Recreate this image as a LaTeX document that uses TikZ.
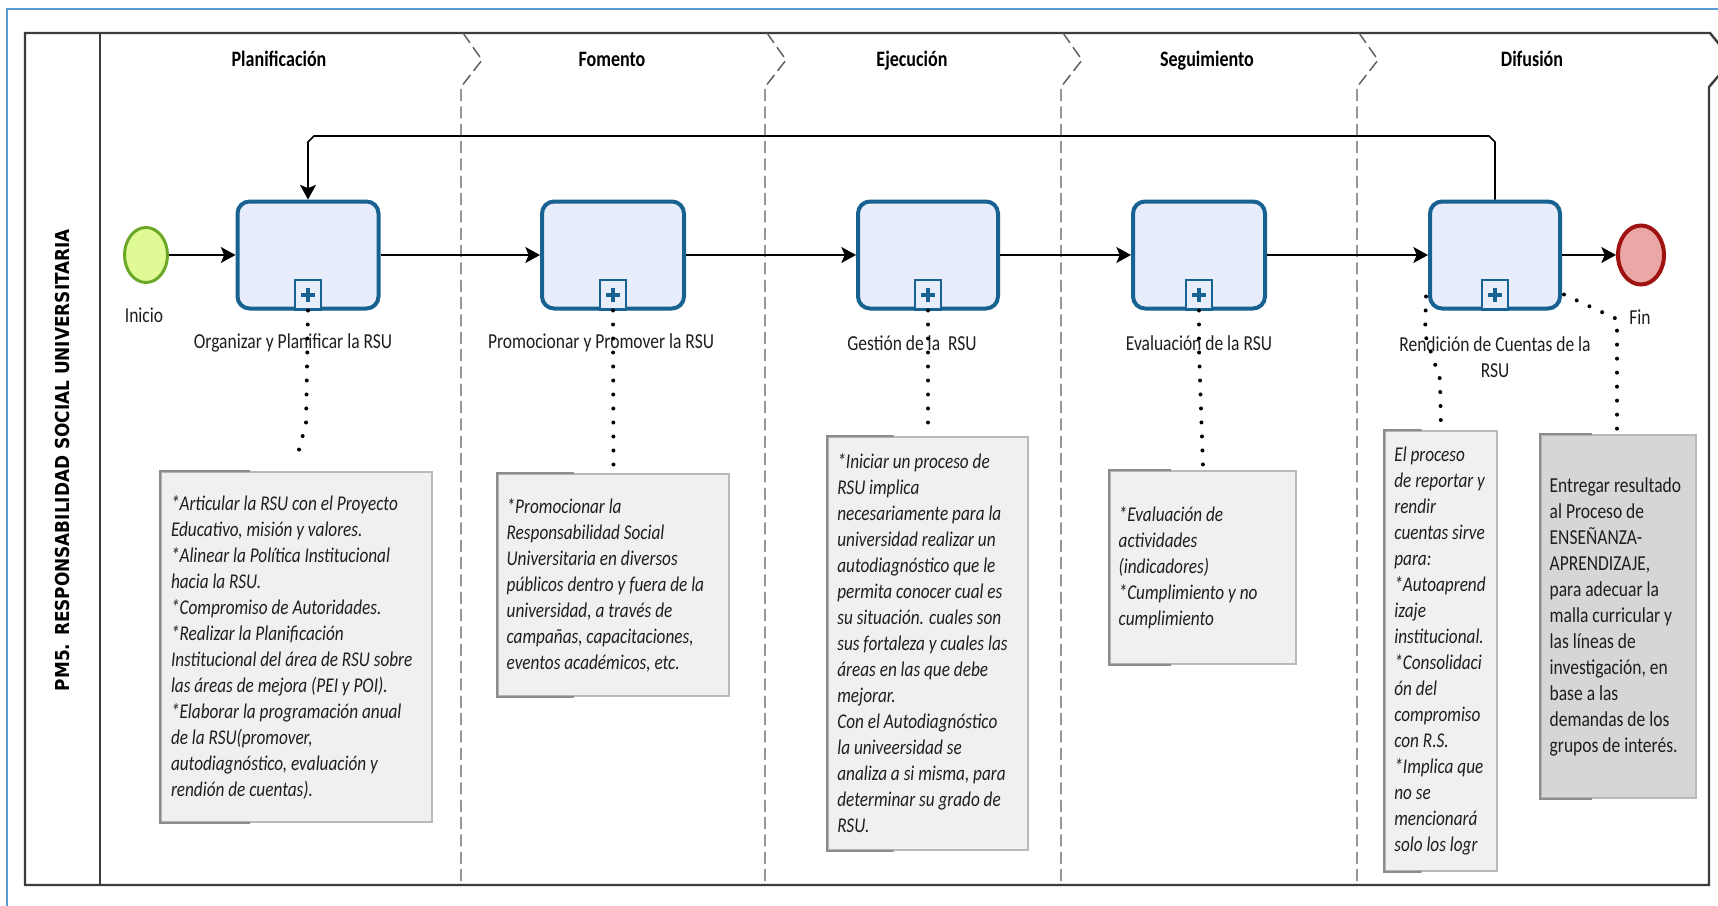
\documentclass[tikz,border=0pt]{standalone}
\usepackage{fontspec}
\setmainfont{Carlito}[FakeStretch=0.82]
\newfontfamily\poolfont{DejaVu Sans}[FakeStretch=0.88]
\usetikzlibrary{arrows.meta,calc,shapes.geometric}
\definecolor{frameblue}{RGB}{91,155,213}
\definecolor{poolline}{RGB}{60,60,60}
\definecolor{sepgray}{RGB}{95,95,95}
\definecolor{taskblue}{RGB}{24,98,146}
\definecolor{taskfill}{RGB}{232,237,252}
\definecolor{startfill}{RGB}{224,250,150}
\definecolor{startline}{RGB}{108,168,40}
\definecolor{endfill}{RGB}{235,166,166}
\definecolor{endline}{RGB}{158,18,18}
\definecolor{notefill}{RGB}{240,240,240}
\definecolor{noteline}{RGB}{185,185,185}
\definecolor{notebracket}{RGB}{140,140,140}
\definecolor{darknote}{RGB}{214,214,214}
\definecolor{txt}{RGB}{30,30,30}
\begin{document}
\begin{tikzpicture}[x=0.75pt,y=-0.75pt,
  every node/.style={text=txt},
  lbl/.style={font=\fontsize{16}{19.5}\selectfont, inner sep=0pt, align=center},
  phase/.style={font=\bfseries\fontsize{16.5}{19.5}\selectfont, inner sep=0pt, text=black, anchor=base},
  task/.style={draw=taskblue, line width=3pt, fill=taskfill, rounded corners=9pt, minimum height=80.25pt, inner sep=0pt},
  marker/.style={draw=taskblue, line width=1.6pt, fill=taskfill, minimum width=19.5pt, minimum height=22pt, inner sep=0pt, anchor=south,
    path picture={\draw[taskblue, line width=3pt]
      ($(path picture bounding box.center)+(0,-7)$) -- ($(path picture bounding box.center)+(0,7)$)
      ($(path picture bounding box.center)+(-7,0)$) -- ($(path picture bounding box.center)+(7,0)$);}},
  startev/.style={ellipse, draw=startline, line width=2.25pt, fill=startfill, minimum width=32.25pt, minimum height=41.25pt, inner sep=0pt},
  endev/.style={ellipse, draw=endline, line width=3pt, fill=endfill, minimum width=34.5pt, minimum height=44.25pt, inner sep=0pt},
  flow/.style={draw=black, line width=1.3pt, -{Stealth[length=11pt,width=12pt,inset=2.5pt]}},
  sepdash/.style={draw=sepgray, line width=1.1pt, dash pattern=on 9pt off 4pt},
  assoc/.style={draw=black, line width=3pt, line cap=round, dash pattern=on 0pt off 10.5pt},
  notebox/.style={draw=noteline, line width=1.4pt, fill=notefill, inner sep=0pt},
  darkbox/.style={draw=noteline, line width=1.4pt, fill=darknote, inner sep=0pt},
  bracket/.style={draw=notebracket, line width=1.5pt},
  notetxt/.style={anchor=west, inner sep=0pt, align=left, font=\itshape\fontsize{15.75}{19.5}\selectfont},
  plaintxt/.style={anchor=west, inner sep=0pt, align=left, font=\fontsize{16}{19.5}\selectfont}
]
\useasboundingbox (0,0) rectangle (1718,906);
\clip (0,0) rectangle (1718,906);
\fill[white] (0,0) rectangle (1718,906);

% outer blue frame
\draw[frameblue, line width=1.5pt] (7,9) rectangle (1760,940);

% pool
\draw[poolline, line width=1.8pt] (1732,60) -- (1710,33) -- (25,33) -- (25,885) -- (1709,885) -- (1709,87) -- (1732,60);
\draw[poolline, line width=1.3pt] (100,33) -- (100,885);
\node[rotate=90, font=\poolfont\bfseries\fontsize{14.4}{16}\selectfont, text=black, inner sep=0pt] (pool) at (63,460) {PM5. RESPONSABILIDAD SOCIAL UNIVERSITARIA};

% phase separators
\foreach \x in {461,765,1061,1357}
  \draw[sepdash] (\x+2,33) -- (\x+21,60) -- (\x,87) -- (\x,885);

% phase titles
\node[phase] (ph1) at (279,66.5) {Planificación};
\node[phase] (ph2) at (612,66.5) {Fomento};
\node[phase] (ph3) at (912,66.5) {Ejecución};
\node[phase] (ph4) at (1207,66.5) {Seguimiento};
\node[phase] (ph5) at (1532,66.5) {Difusión};

% notes
\node[notebox, minimum width=203.25pt, minimum height=262.5pt] (N1) at (296.5,647) {};
\node[notebox, minimum width=173.25pt, minimum height=166.5pt] (N2) at (613.5,585) {};
\node[notebox, minimum width=150pt, minimum height=309.75pt] (N3) at (928,643.5) {};
\node[notebox, minimum width=139.5pt, minimum height=144.75pt] (N4) at (1203,567.5) {};
\node[notebox, minimum width=84pt, minimum height=330pt] (N5) at (1441,651) {};
\node[darkbox, minimum width=116.25pt, minimum height=272.25pt] (N6) at (1618.5,616.5) {};
\foreach \n in {N1,N2,N3,N4,N5,N6}
  \draw[bracket] ($(\n.north west)!0.33!(\n.north east)$) -- (\n.north west) -- (\n.south west) -- ($(\n.south west)!0.33!(\n.south east)$);

\node[notetxt] (N1t) at ([xshift=8pt]N1.west) {*Articular la RSU con el Proyecto\\Educativo, misión y valores.\\*Alinear la Política Institucional\\hacia la RSU.\\*Compromiso de Autoridades.\\*Realizar la Planificación\\Institucional del área de RSU sobre\\las áreas de mejora (PEI y POI).\\*Elaborar la programación anual\\de la RSU(promover,\\autodiagnóstico, evaluación y\\rendión de cuentas).};
\node[notetxt] (N2t) at ([xshift=7pt]N2.west) {*Promocionar la\\Responsabilidad Social\\Universitaria en diversos\\públicos dentro y fuera de la\\universidad, a través de\\campañas, capacitaciones,\\eventos académicos, etc.};
\node[notetxt] (N3t) at ([xshift=7.5pt]N3.west) {*Iniciar un proceso de\\RSU implica\\necesariamente para la\\universidad realizar un\\autodiagnóstico que le\\permita conocer cual es\\su situación. cuales son\\sus fortaleza y cuales las\\áreas en las que debe\\mejorar.\\Con el Autodiagnóstico\\la univeersidad se\\analiza a si misma, para\\determinar su grado de\\RSU.};
\node[notetxt] (N4t) at ([xshift=7pt]N4.west) {*Evaluación de\\actividades\\(indicadores)\\*Cumplimiento y no\\cumplimiento};
\node[notetxt] (N5t) at ([xshift=7.5pt]N5.west) {El proceso\\de reportar y\\rendir\\cuentas sirve\\para:\\*Autoaprend\\izaje\\institucional.\\*Consolidaci\\ón del\\compromiso\\con R.S.\\*Implica que\\no se\\mencionará\\solo los logr};
\node[plaintxt] (N6t) at ([xshift=7pt]N6.west) {Entregar resultado\\al Proceso de\\ENSEÑANZA-\\APRENDIZAJE,\\para adecuar la\\malla curricular y\\las líneas de\\investigación, en\\base a las\\demandas de los\\grupos de interés.};

% tasks
\node[task, minimum width=105.75pt] (T1) at (308,255) {};
\node[task, minimum width=106.5pt] (T2) at (613,255) {};
\node[task, minimum width=105pt] (T3) at (928,255) {};
\node[task, minimum width=99pt] (T4) at (1199,255) {};
\node[task, minimum width=97.5pt] (T5) at (1495,255) {};
\node[marker] (M1) at (T1.south) {};
\node[marker] (M2) at (T2.south) {};
\node[marker] (M3) at (T3.south) {};
\node[marker] (M4) at (T4.south) {};
\node[marker] (M5) at (T5.south) {};

% events
\node[startev] (S) at (146,255) {};
\node[endev] (E) at (1641,255) {};

% labels
\node[lbl] (Linicio) at (144,315) {Inicio};
\node[lbl] (Lfin) at (1640,317) {Fin};
\node[lbl] (L1) at (293,343) {Organizar y Planificar la RSU};
\node[lbl] (L2) at (601,343) {Promocionar y Promover la RSU};
\node[lbl] (L3) at (912,343) {Gestión de la~~RSU};
\node[lbl] (L4) at (1199,343) {Evaluación de la RSU};
\node[lbl] (L5) at (1495,357) {Rendición de Cuentas de la\\RSU};

% sequence flows
\draw[flow] (S) -- (T1);
\draw[flow] (T1) -- (T2);
\draw[flow] (T2) -- (T3);
\draw[flow] (T3) -- (T4);
\draw[flow] (T4) -- (T5);
\draw[flow] (T5) -- (E);
\coordinate (loopY) at (0,136);
\draw[flow] (T5.north) -- ($(T5.north |- loopY)+(0,6)$) -- ($(T5.north |- loopY)+(-6,0)$)
  -- ($(T1.north |- loopY)+(6,0)$) -- ($(T1.north |- loopY)+(0,6)$) -- (T1.north);

% associations
\draw[assoc] (T1.south) -- ($(T1.south)+(-2,113)$) -- ($(N1.north)+(0,-12)$);
\draw[assoc] (T2.south) -- (N2.north);
\draw[assoc] (T3.south) -- ($(N3.north)+(0,-6)$);
\draw[assoc] (T4.south) -- ($(T4.south)+(0,40)$) -- ($(N4.north)+(0,-3)$);
\draw[assoc] ($(T5.south west)+(-2,-14)$) -- ($(T5.south west)+(-3,24)$) -- ($(N5.north)+(-1,-51)$) -- (N5.north);
\draw[assoc] ($(T5.south east)+(2,-16)$) -- ($(N6.north)+(-1.5,-115)$) -- ($(N6.north)+(-1.5,-3)$);
\end{tikzpicture}
\end{document}
